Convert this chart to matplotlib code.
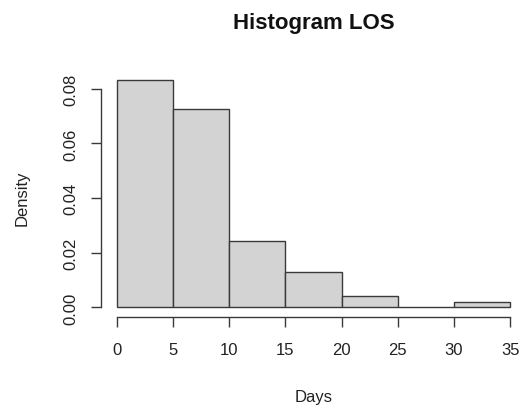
import matplotlib.pyplot as plt
import numpy as np

plt.rcParams['font.family'] = ['Liberation Sans', 'DejaVu Sans']

# histogram of length of stay (density scale)
bin_edges = [0, 5, 10, 15, 20, 25, 30, 35]
density = [0.0834, 0.0725, 0.0244, 0.0129, 0.0041, 0.0, 0.0020]
x_ticks = [0, 5, 10, 15, 20, 25, 30, 35]
y_ticks = [0.00, 0.02, 0.04, 0.06, 0.08]

fig = plt.figure(figsize=(5.24, 4.10), dpi=100)
W, H = 524, 410
# plot region in pixels (R style, 4% padding beyond data)
left, right, top, bottom = 101, 524, 71.5, 317.5
ax = fig.add_axes([left / W, 1 - bottom / H, (right - left) / W, (bottom - top) / H])

edges = np.asarray(bin_edges)
ax.bar(edges[:-1], density, width=np.diff(edges), align='edge',
       color='#D3D3D3', edgecolor='#3a3a3a', linewidth=1.0)

ax.set_xlim(-1.4, -1.4 + (right - left) / 11.24)
ax.set_ylim(-0.0033, 0.0867)

for s in ['top', 'right']:
    ax.spines[s].set_visible(False)
ax.spines['left'].set_bounds(0, 0.08)
ax.spines['bottom'].set_bounds(0, 35)
for s in ['left', 'bottom']:
    ax.spines[s].set_color('#3a3a3a')
    ax.spines[s].set_linewidth(1.0)

ax.set_xticks(x_ticks)
ax.set_xticklabels([str(t) for t in x_ticks])
ax.set_yticks(y_ticks)
ax.set_yticklabels(['%.2f' % t for t in y_ticks], rotation=90, va='center')
ax.tick_params(axis='both', direction='out', length=7, width=1.0, color='#3a3a3a',
               labelsize=12, labelcolor='#222222')
ax.tick_params(axis='x', pad=11.5)
ax.tick_params(axis='y', pad=9)

fig.text(314 / W, 1 - 398 / H, 'Days', ha='center', va='center',
         fontsize=12, color='#222222')
fig.text(22 / W, 1 - 198 / H, 'Density', ha='center', va='center',
         rotation=90, fontsize=12, color='#222222')
fig.text(314 / W, 1 - 24 / H, 'Histogram LOS', ha='center', va='center',
         fontsize=16, fontweight='bold', color='#111111')

fig.savefig('out.png', dpi=100)
